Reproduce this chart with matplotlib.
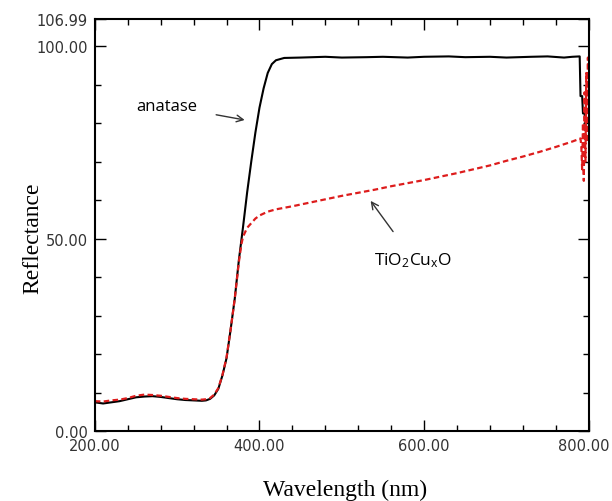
import numpy as np
import matplotlib
matplotlib.use('Agg')
from matplotlib import pyplot as plt
from matplotlib.ticker import MultipleLocator, FormatStrFormatter
import matplotlib.transforms as mtransforms

# anatase (black solid)
wl_a = [200, 210, 220, 230, 240, 250, 260, 270, 280, 290, 300, 310, 320, 330, 335,
        340, 345, 350, 355, 360, 365, 370, 375, 380, 385, 390, 395, 400, 405, 410,
        415, 420, 430, 450, 480, 500, 530, 550, 580, 600, 630, 650, 680, 700, 730,
        750, 770, 780, 789, 790, 792, 793, 795, 796]
r_a = [7.5, 7.2, 7.5, 7.8, 8.3, 8.8, 9.0, 9.1, 8.9, 8.6, 8.3, 8.1, 8.0, 7.9, 8.0,
       8.4, 9.3, 11.0, 14.5, 19.0, 26.5, 34.5, 44.5, 53.0, 62.0, 70.0, 77.5, 84.0, 89.0, 93.0,
       95.3, 96.3, 96.9, 97.0, 97.2, 97.0, 97.1, 97.2, 97.0, 97.2, 97.3, 97.1, 97.2, 97.0, 97.2,
       97.3, 97.0, 97.2, 97.3, 87.0, 87.0, 82.5, 82.5, 79.5]

# TiO2CuxO (red dashed)
wl_t = [200, 210, 220, 230, 240, 250, 260, 270, 280, 290, 300, 310, 320, 330, 335,
        340, 345, 350, 355, 360, 365, 370, 375, 378, 380, 385, 390, 395, 400, 410,
        420, 440, 460, 480, 500, 520, 540, 560, 580, 600, 620, 640, 660, 680, 700,
        720, 740, 760, 780, 790, 791, 792, 793, 794, 795, 796, 797, 798, 799, 800]
r_t = [7.8, 7.7, 8.0, 8.2, 8.6, 9.2, 9.5, 9.4, 9.2, 8.9, 8.6, 8.4, 8.3, 8.2, 8.3,
       8.6, 9.5, 11.2, 14.6, 19.2, 26.5, 34.5, 44.0, 48.5, 50.5, 52.8, 54.0, 55.2, 56.0, 57.0,
       57.6, 58.4, 59.3, 60.2, 61.1, 61.9, 62.7, 63.6, 64.4, 65.2, 66.1, 67.0, 68.0, 69.0, 70.2,
       71.3, 72.5, 73.8, 75.2, 76.0, 74.0, 68.0, 80.0, 65.0, 88.0, 70.0, 93.0, 75.0, 97.0, 78.0]

fig = plt.figure(figsize=(6.12, 5.02), dpi=100)
ax = fig.add_axes([0.155, 0.139, 0.807, 0.821])

ax.plot(wl_a, r_a, color='black', lw=1.5)
ax.plot(wl_t, r_t, color='#dd1c1c', lw=1.6, ls=(0, (2.5, 1.5)))

ax.set_xlim(200, 800)
ax.set_ylim(0, 106.99)

ax.set_xticks([200, 400, 600, 800])
ax.xaxis.set_minor_locator(MultipleLocator(40))
ax.xaxis.set_major_formatter(FormatStrFormatter('%.2f'))
ax.set_yticks([0, 50, 100, 106.99])
ax.set_yticklabels(['0.00', '50.00', '100.00', '106.99'])
ax.yaxis.set_minor_locator(MultipleLocator(10))

ax.tick_params(which='both', direction='in', top=True, right=True,
               labelsize=10.5, labelcolor='#333333', pad=5, width=1.0)
ax.tick_params(which='major', length=8)
ax.tick_params(which='minor', length=4)
for s in ax.spines.values():
    s.set_linewidth(1.5)

# last x label sits at the figure edge, nudge it in a bit
fig.canvas.draw()
lab = ax.get_xticklabels()[-1]
lab.set_transform(lab.get_transform() + mtransforms.ScaledTranslation(-5/100, 0, fig.dpi_scale_trans))

ax.set_xlabel('Wavelength (nm)', family='Liberation Serif', fontsize=17)
ax.xaxis.set_label_coords(0.506, -0.115)
ax.set_ylabel('Reflectance', family='Liberation Serif', fontsize=17)
ax.yaxis.set_label_coords(-0.105, 0.47)

ax.annotate('anatase', xy=(382, 80.8), xytext=(287, 84.5),
            fontsize=12, family='Open Sans', ha='center', va='center',
            arrowprops=dict(arrowstyle='->', color='#333333', lw=1,
                            shrinkA=12, shrinkB=0))
plt.rcParams['mathtext.fontset'] = 'custom'
plt.rcParams['mathtext.rm'] = 'Open Sans'
plt.rcParams['mathtext.it'] = 'Open Sans'
ax.annotate(r'TiO$_\mathrm{2}$Cu$_\mathrm{x}$O', xy=(535, 59.8), xytext=(587, 44.6),
            fontsize=12.5, family='Open Sans', ha='center', va='center',
            arrowprops=dict(arrowstyle='->', color='#333333', lw=1,
                            shrinkA=14, shrinkB=0))

fig.savefig('out.png', dpi=100)
